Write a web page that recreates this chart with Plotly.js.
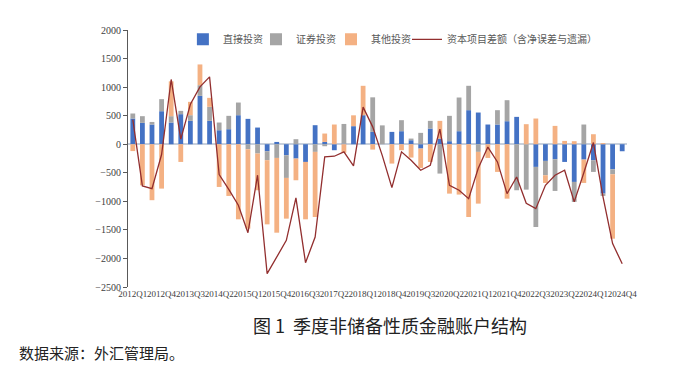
<!DOCTYPE html>
<html>
<head>
<meta charset="utf-8">
<script src="https://cdn.plot.ly/plotly-3.0.1.min.js"></script>
<style>html,body{margin:0;padding:0;background:#fff;}#chart{width:700px;height:383px;}</style>
</head>
<body>
<div id="chart"></div>
<script>
var quarters = [
  "2012Q1","2012Q2","2012Q3","2012Q4","2013Q1","2013Q2","2013Q3","2013Q4",
  "2014Q1","2014Q2","2014Q3","2014Q4","2015Q1","2015Q2","2015Q3","2015Q4",
  "2016Q1","2016Q2","2016Q3","2016Q4","2017Q1","2017Q2","2017Q3","2017Q4",
  "2018Q1","2018Q2","2018Q3","2018Q4","2019Q1","2019Q2","2019Q3","2019Q4",
  "2020Q1","2020Q2","2020Q3","2020Q4","2021Q1","2021Q2","2021Q3","2021Q4",
  "2022Q1","2022Q2","2022Q3","2022Q4","2023Q1","2023Q2","2023Q3","2023Q4",
  "2024Q1","2024Q2","2024Q3","2024Q4"
];
// 直接投资
var directInv = [
  450, 374, 345, 578, 380, 526, 409, 847,
  409, 245, 263, 508, 444, 292, -123, 40,
  -193, -251, -310, 333, 40, -105, 10, 316,
  508, 216, 0, 216, 228, 70, -76, 275,
  99, 53, 228, 596, 555, 345, 345, 403,
  479, 0, -397, -292, -263, -310, -660, -269,
  -281, -865, -438, -123
];
// 证券投资
var portfolioInv = [
  88, 117, 45, 211, 111, 58, 99, 187,
  246, 135, 234, 222, -88, -163, -157, -240,
  -397, 88, 0, -134, -35, 0, 345, 0,
  0, 605, 330, 0, 193, 29, 199, 134,
  -514, 444, 590, 427, -134, 0, 251, 368,
  -806, -795, -1052, -251, -555, 0, -350, 345,
  -204, -40, -88, 0
];
// 其他投资
var otherInv = [
  -120, -720, -980, -777, 610, -310, 234, 363,
  157, -748, -906, -1315, -1390, -643, -1123, -1309,
  -713, -380, -1005, -1140, 147, 345, -150, 190,
  515, -94, 0, -339, -105, -234, -339, -310,
  310, -865, -882, -1274, -906, -240, -485, -953,
  0, 351, 450, -135, 321, 58, 53, -409,
  175, 20, -1128, 0
];
// 资本项目差额（含净误差与遗漏）
var capitalBalance = [
  430, -730, -777, -180, 1134, 90, 700, 1005,
  1180, -532, -790, -1069, -1550, -543, -2267, -1980,
  -1683, -941, -2075, -1625, -222, -210, -134, -380,
  650, 304, -200, -760, -134, -280, -456, -368,
  263, -719, -806, -953, -420, -50, -310, -865,
  -573, -1034, -1128, -719, -543, -456, -1010, -500,
  29, -920, -1741, -2092
];

var tickLabels = quarters.filter(function(q, i){ return i % 3 === 0; });

var legendFont = {family: "Noto Sans CJK SC", size: 10, color: "#595959"};
function legendAt(x) {
  return {orientation: "h", x: x, y: 1.02, xanchor: "left", yanchor: "top",
          font: legendFont, bgcolor: "rgba(0,0,0,0)", itemwidth: 30};
}

var traces = [
  {type: "bar", name: "直接投资", x: quarters, y: directInv, marker: {color: "#4472c4"}, legend: "legend"},
  {type: "bar", name: "证券投资", x: quarters, y: portfolioInv, marker: {color: "#a5a5a5"}, legend: "legend2"},
  {type: "bar", name: "其他投资", x: quarters, y: otherInv, marker: {color: "#f4b183"}, legend: "legend3"},
  {type: "scatter", mode: "lines", name: "资本项目差额（含净误差与遗漏）", x: quarters, y: capitalBalance,
   line: {color: "#922e2e", width: 1.3}, legend: "legend4"}
];

var layout = {
  width: 700, height: 383,
  margin: {l: 128, r: 73, t: 30, b: 96},
  paper_bgcolor: "#ffffff", plot_bgcolor: "#ffffff",
  barmode: "relative",
  bargap: 0.5,
  showlegend: true,
  legend: legendAt(0.110),
  legend2: legendAt(0.2565),
  legend3: legendAt(0.4068),
  legend4: legendAt(0.5591),
  xaxis: {type: "category", tickmode: "array", tickvals: tickLabels, ticktext: tickLabels,
          tickangle: 0, showgrid: false, showline: false, zeroline: false, ticks: "",
          tickfont: {family: "Liberation Serif", size: 9, color: "#404040"},
          automargin: false},
  yaxis: {range: [-2500, 2000], tickmode: "linear", tick0: -2500, dtick: 500,
          showgrid: false, showline: true, linecolor: "#595959", linewidth: 1,
          ticks: "outside", ticklen: 4, tickcolor: "#595959",
          zeroline: true, zerolinecolor: "#c8d0dc", zerolinewidth: 1.5,
          tickfont: {family: "Liberation Serif", size: 10, color: "#404040"},
          automargin: false},
  annotations: [
    {xref: "paper", yref: "paper", x: 0.525, y: -0.148, xanchor: "center", yanchor: "middle",
     text: "图 1  季度非储备性质金融账户结构", showarrow: false,
     font: {family: "Noto Sans CJK SC", size: 18, color: "#222222"}},
    {xref: "paper", yref: "paper", x: -0.222, y: -0.253, xanchor: "left", yanchor: "middle",
     text: "数据来源：外汇管理局。", showarrow: false,
     font: {family: "Noto Sans CJK SC", size: 15, color: "#222222"}}
  ]
};

Plotly.newPlot("chart", traces, layout, {displayModeBar: false, staticPlot: true});
</script>
</body>
</html>
